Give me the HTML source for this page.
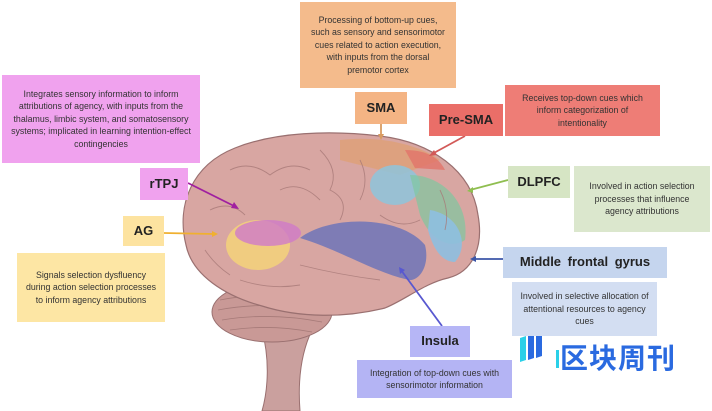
<!DOCTYPE html>
<html><head><meta charset="utf-8"><style>
html,body{margin:0;padding:0;background:#fff}
body{width:712px;height:411px;position:relative;overflow:hidden;font-family:"Liberation Sans","Noto Sans CJK SC",sans-serif}
.b{position:absolute;display:flex;align-items:center;justify-content:center;text-align:center;box-sizing:border-box;color:#333;font-size:8.8px;line-height:12.5px}
.l{font-weight:bold;font-size:13px;color:#222}
svg{position:absolute;left:0;top:0}
</style></head><body>
<svg width="712" height="411" viewBox="0 0 712 411">
<defs><clipPath id="br"><path d="M186,245 C176,205 192,165 235,148 C275,132 330,130 380,136 C430,142 472,170 478,215 C484,248 472,272 448,278 C425,283 405,300 385,308 C345,318 300,318 262,306 C225,296 192,275 186,245 Z"/></clipPath></defs>
<path d="M262,330 C270,360 268,390 262,411 L300,411 C298,385 300,355 312,330 Z" fill="#caa09e" stroke="#9a7070" stroke-width="1"/>
<ellipse cx="272" cy="312" rx="60" ry="30" fill="#c99996" stroke="#9a7070" stroke-width="1"/>
<g stroke="#a67a78" stroke-width="0.8" fill="none">
<path d="M220,300 Q270,290 320,302"/><path d="M218,310 Q270,300 324,312"/><path d="M222,320 Q270,312 322,322"/><path d="M230,330 Q270,324 312,332"/>
</g>
<path d="M186,245 C176,205 192,165 235,148 C275,132 330,130 380,136 C430,142 472,170 478,215 C484,248 472,272 448,278 C425,283 405,300 385,308 C345,318 300,318 262,306 C225,296 192,275 186,245 Z" fill="#d8a6a2" stroke="#9a7070" stroke-width="1.2"/>
<g clip-path="url(#br)">
<path d="M340,140 C380,135 420,145 440,160 L400,175 L340,160 Z" fill="#e0a070" opacity="0.7"/>
<path d="M405,150 C430,150 440,160 445,170 L415,168 Z" fill="#e2746a" opacity="0.8"/>
<ellipse cx="395" cy="185" rx="25" ry="20" fill="#8ec4dc" opacity="0.85"/>
<path d="M410,175 C440,175 470,200 465,240 C450,250 430,240 420,215 Z" fill="#7fc8a0" opacity="0.7"/>
<path d="M430,210 C460,215 470,245 455,262 C440,262 432,245 428,230 Z" fill="#8ebfe0" opacity="0.9"/>
<path d="M300,238 C330,215 400,215 425,245 C430,265 420,280 410,280 C380,275 340,250 300,238 Z" fill="#6e74b8" opacity="0.85"/>
<ellipse cx="258" cy="245" rx="32" ry="25" fill="#f4d27a" opacity="0.85"/>
<ellipse cx="268" cy="233" rx="33" ry="13" fill="#d07ac8" opacity="0.8"/>
<g stroke="#a87a78" stroke-width="0.9" fill="none" opacity="0.8">
<path d="M230,170 Q250,160 270,175 Q290,160 310,170"/><path d="M320,150 Q340,170 330,190 Q350,200 340,220"/>
<path d="M210,210 Q230,200 245,215"/><path d="M280,190 Q300,180 320,200"/><path d="M360,160 Q370,180 360,200"/>
<path d="M300,265 Q340,275 380,280"/><path d="M240,280 Q270,290 300,285"/><path d="M205,250 Q215,265 230,275"/>
<path d="M380,215 Q400,230 420,220"/><path d="M440,190 Q450,210 445,230"/>
</g>
</g>
<g stroke-width="1.8" fill="none">
<line x1="381" y1="124" x2="381" y2="137" stroke="#d99b60"/>
<line x1="465" y1="136" x2="432" y2="154" stroke="#d25a58"/>
<line x1="508" y1="180" x2="470" y2="190" stroke="#8fbe50"/>
<line x1="188" y1="183" x2="236" y2="207" stroke="#a020a0"/>
<line x1="164" y1="233" x2="214" y2="234" stroke="#f0b030"/>
<line x1="503" y1="259" x2="473" y2="259" stroke="#3b56a8"/>
<line x1="442" y1="326" x2="401" y2="270" stroke="#5858d0"/>
</g>
<g>
<polygon points="381,140 378,134 384,134" fill="#d99b60"/>
<polygon points="429,156 434,150 437,155" fill="#d25a58"/>
<polygon points="467,191 473,187 473,193" fill="#8fbe50"/>
<polygon points="239,209 231,208 234,202" fill="#a020a0"/>
<polygon points="218,234 212,231 212,237" fill="#f0b030"/>
<polygon points="470,259 476,256 476,262" fill="#3b56a8"/>
<polygon points="399,267 405,270 400,274" fill="#5858d0"/>
</g>
<g>
<path d="M520,338 L526,336 L526,360 L520,362 Z" fill="#2ad0e8"/>
<path d="M528,336 L534,334 L534,358 L528,360 Z" fill="#2a6ae0"/>
<path d="M536,334 L542,332 L542,356 L536,358 Z" fill="#2a6ae0"/>
<rect x="556" y="350" width="3" height="18" fill="#2ad0e8"/>
</g>
</svg>
<div class="b" style="left:300px;top:2px;width:156px;height:86px;background:#f4bb8c;padding:0 10px">Processing of bottom-up cues, such as sensory and sensorimotor cues related to action execution, with inputs from the dorsal premotor cortex</div>
<div class="b l" style="left:355px;top:92px;width:52px;height:32px;background:#f4b484">SMA</div>
<div class="b l" style="left:429px;top:104px;width:74px;height:32px;background:#ea6e68">Pre-SMA</div>
<div class="b" style="left:505px;top:85px;width:155px;height:51px;background:#ee7d76;padding:0 16px">Receives top-down cues which inform categorization of intentionality</div>
<div class="b" style="left:2px;top:75px;width:198px;height:88px;background:#f0a2ee;padding:0 4px">Integrates sensory information to inform attributions of agency, with inputs from the thalamus, limbic system, and somatosensory systems; implicated in learning intention-effect contingencies</div>
<div class="b l" style="left:140px;top:168px;width:48px;height:32px;background:#f0a2ee">rTPJ</div>
<div class="b l" style="left:123px;top:216px;width:41px;height:30px;background:#fde3a0">AG</div>
<div class="b" style="left:17px;top:253px;width:148px;height:69px;background:#fde6a4;padding:0 6px">Signals selection dysfluency during action selection processes to inform agency attributions</div>
<div class="b l" style="left:508px;top:166px;width:62px;height:32px;background:#d6e5c4">DLPFC</div>
<div class="b" style="left:574px;top:166px;width:136px;height:66px;background:#dbe7cd;padding:0 10px">Involved in action selection processes that influence agency attributions</div>
<div class="b l" style="left:503px;top:247px;width:164px;height:31px;background:#c5d5ee;word-spacing:3px">Middle frontal gyrus</div>
<div class="b" style="left:512px;top:282px;width:145px;height:54px;background:#d3def2;padding:0 2px">Involved in selective allocation of attentional resources to agency cues</div>
<div class="b l" style="left:410px;top:326px;width:60px;height:31px;background:#b6b6f6">Insula</div>
<div class="b" style="left:357px;top:360px;width:155px;height:38px;background:#b4b4f4;padding:0 10px">Integration of top-down cues with sensorimotor information</div>
<div style="position:absolute;left:560px;top:342px;font-size:28px;font-weight:bold;color:#2a6ae0;font-family:'Noto Sans CJK SC',sans-serif;line-height:30px;letter-spacing:1px">区块周刊</div>
</body></html>
